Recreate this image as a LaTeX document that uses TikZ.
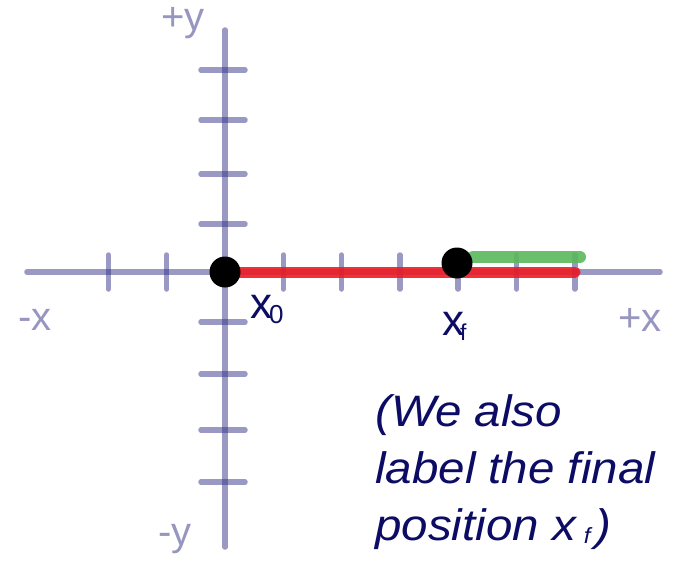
\documentclass[tikz,border=0pt]{standalone}
\usepackage{fontspec}
\setmainfont{Liberation Sans}
\newfontfamily\notefont[FakeStretch=1.08]{Liberation Sans}
\usetikzlibrary{positioning}
\definecolor{axBlue}{RGB}{51,51,136}
\definecolor{axLabel}{RGB}{150,150,192}
\definecolor{pathRed}{RGB}{237,28,36}
\definecolor{pathGreen}{RGB}{90,185,90}
\definecolor{noteNavy}{RGB}{12,12,100}

\begin{document}
\begin{tikzpicture}[x=1pt, y=1pt,
  axis/.style={axBlue, opacity=0.5, line width=5.5pt, line cap=round},
  dot/.style={circle, fill=black, minimum size=31pt, inner sep=0pt},
  axlbl/.style={axLabel, anchor=base, inner sep=0pt, font=\fontsize{40}{48}\selectfont},
  poslbl/.style={noteNavy, anchor=base west, inner sep=0pt, font=\fontsize{44}{50}\selectfont},
  note/.style={noteNavy, anchor=base west, align=left, inner sep=0pt, font=\notefont\itshape\fontsize{44}{57}\selectfont}]
  \useasboundingbox (-225,-288) rectangle (451,272);

  \coordinate (xl) at (-198,0);
  \coordinate (xr) at (435,0);
  \coordinate (yt) at (0,242);
  \coordinate (yb) at (0,-275);
  \draw[axis] (xl) -- (xr);
  \draw[axis] (yt) -- (yb);
  \foreach \t in {-2,-1,1,2,3,4,5,6}
    \draw[axis] (\t*58.3,-17) -- (\t*58.3,17);
  \foreach \v in {48,98,152,202,-50,-102,-158,-210}
    \draw[axis] (-24,\v) -- (20,\v);

  \coordinate (redEnd) at (350,0);
  \coordinate (grA) at (248,15);
  \coordinate (grB) at (355,15);
  \draw[pathRed, opacity=0.9, line width=11pt, line cap=round] (0,0) -- (redEnd);
  \draw[pathGreen, opacity=0.9, line width=12pt, line cap=round] (grA) -- (grB);

  \node[dot] (x0) at (0,0) {};
  \node[dot] (xf) at (232,9) {};

  \node[axlbl] (py) at (-42,241) {+y};
  \node[axlbl] (ny) at (-50,-273) {-y};
  \node[axlbl] (nx) at (-190,-58) {-x};
  \node[axlbl] (px) at (415,-59) {+x};

  \node[poslbl] (x0lbl) at (25,-46) {x\kern-3pt\raisebox{-5pt}{\fontsize{26}{26}\selectfont 0}};
  \node[poslbl] (xflbl) at (217,-63) {x\kern-4pt\raisebox{-5pt}{\fontsize{23}{23}\selectfont f}};

  \node[note] (txt) at (150,-268) {(We also\\label the final\\position x\kern8pt\raisebox{-3pt}{\fontsize{22}{22}\selectfont f}\kern5pt)};
\end{tikzpicture}
\end{document}
